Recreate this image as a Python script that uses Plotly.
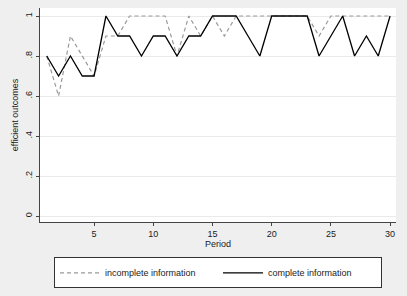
import plotly.graph_objects as go

periods = list(range(1, 31))
incomplete = [0.8, 0.6, 0.9, 0.8, 0.7, 0.9, 0.9, 1.0, 1.0, 1.0,
              1.0, 0.8, 1.0, 0.9, 1.0, 0.9, 1.0, 1.0, 1.0, 1.0,
              1.0, 1.0, 1.0, 0.9, 1.0, 1.0, 1.0, 1.0, 1.0, 1.0]
complete = [0.8, 0.7, 0.8, 0.7, 0.7, 1.0, 0.9, 0.9, 0.8, 0.9,
            0.9, 0.8, 0.9, 0.9, 1.0, 1.0, 1.0, 0.9, 0.8, 1.0,
            1.0, 1.0, 1.0, 0.8, 0.9, 1.0, 0.8, 0.9, 0.8, 1.0]
y_ticks = [0, 0.2, 0.4, 0.6, 0.8, 1.0]
y_ticklabels = ["0", ".2", ".4", ".6", ".8", "1"]
x_ticks = [5, 10, 15, 20, 25, 30]

fig = go.Figure()
fig.add_trace(go.Scatter(x=periods, y=incomplete, mode="lines",
                         name="incomplete information",
                         line=dict(color="#9a9a9a", width=1.2, dash="4px,3px")))
fig.add_trace(go.Scatter(x=periods, y=complete, mode="lines",
                         name="complete information",
                         line=dict(color="#000000", width=1.3)))

font = dict(family="Liberation Sans, Arial, sans-serif", size=9, color="#222")
fig.update_layout(
    width=407, height=296,
    margin=dict(l=40, r=11, t=8, b=67),
    paper_bgcolor="#efefef", plot_bgcolor="#ffffff",
    font=font,
    legend=dict(orientation="h", x=0.5, xanchor="center", y=-0.165, yanchor="top",
                bgcolor="#ffffff", bordercolor="#333333", borderwidth=1,
                font=dict(size=9, family="Liberation Sans, Arial, sans-serif", color="#222"),
                itemwidth=40, tracegroupgap=0, entrywidth=108),
    xaxis=dict(range=[0.43, 30.5], tickvals=x_ticks, ticks="outside", ticklen=3,
               tickcolor="#444", showline=True, linecolor="#444", linewidth=1,
               showgrid=False, zeroline=False,
               title=dict(text="Period", standoff=2, font=dict(size=9))),
    yaxis=dict(range=[-0.03, 1.04], tickvals=y_ticks, ticktext=y_ticklabels,
               tickangle=-90, ticks="outside", ticklen=3, tickcolor="#444",
               showline=True, linecolor="#444", linewidth=1,
               showgrid=True, gridcolor="#eaeaea", gridwidth=1, zeroline=False,
               title=dict(text="efficient outcomes", standoff=4, font=dict(size=9))),
)

fig.write_html("out.html", config={"displayModeBar": False},
               post_script="document.body.style.margin='0';document.body.style.background='#efefef';")
